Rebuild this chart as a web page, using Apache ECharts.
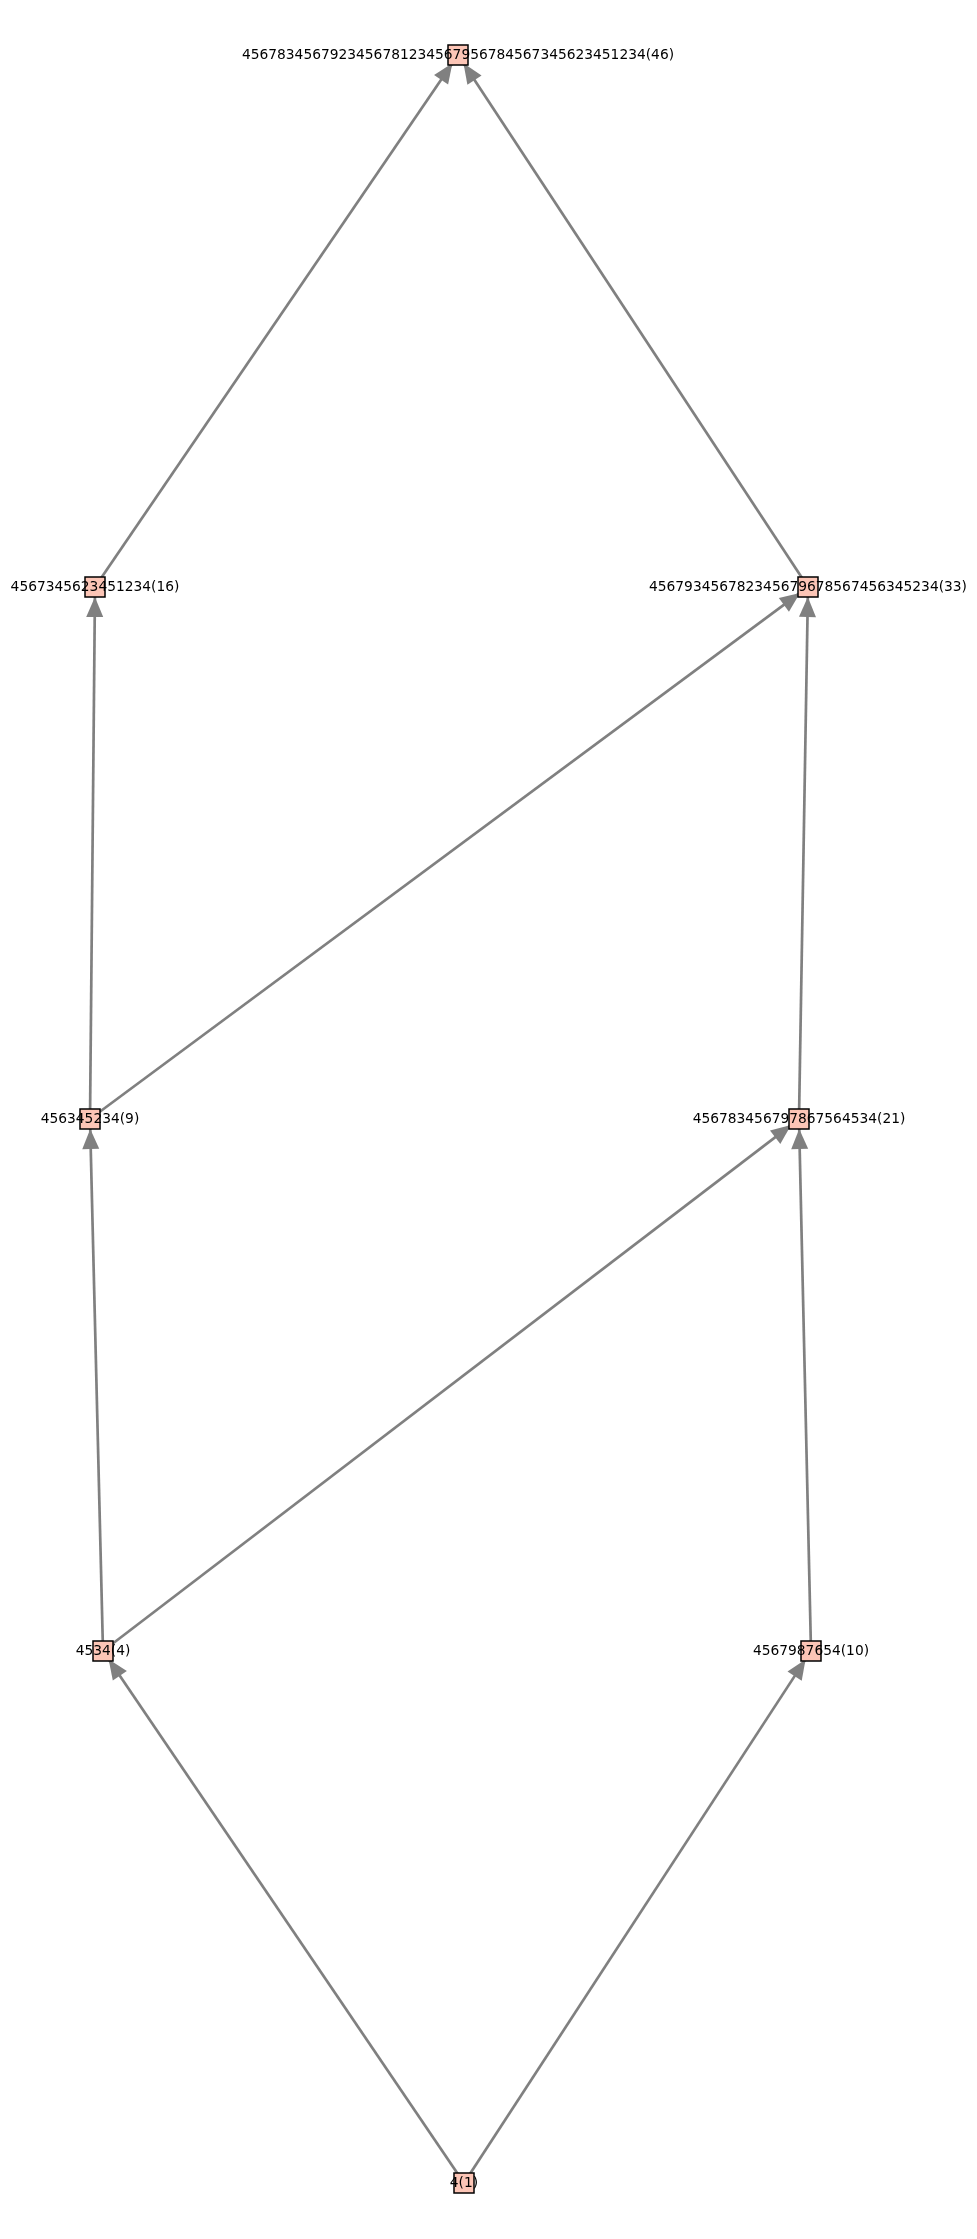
<!DOCTYPE html>
<html>
<head>
<meta charset="utf-8">
<script src="https://cdn.jsdelivr.net/npm/echarts@6/dist/echarts.min.js"></script>
<style>
html,body{margin:0;padding:0;background:#fff;}
#chart{width:977px;height:2239px;}
</style>
</head>
<body>
<div id="chart"></div>
<script>
// nodes of the lattice, placed in pixel-like units of the hidden axes
var nodeNames = [
	'4(1)',
	'4534(4)',
	'4567987654(10)',
	'456345234(9)',
	'456783456797867564534(21)',
	'4567345623451234(16)',
	'456793456782345679678567456345234(33)',
	'4567834567923456781234567956784567345623451234(46)'
];
var nodeX = [464, 103, 811, 90, 799, 95, 808, 458];
var nodeY = [2183, 1651, 1651, 1119, 1119, 587, 587, 55];

// edges (from -> to), index into nodeNames
var edgeSource = [0, 0, 1, 1, 2, 3, 3, 4, 5, 6];
var edgeTarget = [1, 2, 3, 4, 4, 5, 6, 6, 7, 7];

var nodes = [];
for (var i = 0; i < nodeNames.length; i++) {
	nodes.push({ name: nodeNames[i], value: [nodeX[i], nodeY[i]] });
}
var links = [];
for (var j = 0; j < edgeSource.length; j++) {
	links.push({ source: nodeNames[edgeSource[j]], target: nodeNames[edgeTarget[j]] });
}

// arrow head with its tip in the middle of a square box, so the tip sits on the line end
var arrowHead = 'path://M0,-20 M-20,0 M20,0 M0,20 M0,0 L8.5,20 L-8.5,20 Z';

var chart = echarts.init(document.getElementById('chart'), null, { renderer: 'canvas' });
chart.setOption({
	animation: false,
	backgroundColor: '#fff',
	grid: { left: 0, right: 0, top: 0, bottom: 0 },
	xAxis: { type: 'value', min: 0, max: 977, show: false },
	yAxis: { type: 'value', min: 0, max: 2239, inverse: true, show: false },
	series: [{
		type: 'graph',
		coordinateSystem: 'cartesian2d',
		layout: 'none',
		symbol: 'rect',
		symbolSize: 20,
		edgeSymbol: ['none', arrowHead],
		edgeSymbolSize: [0, 40],
		itemStyle: { color: '#fcc5b6', borderColor: '#000', borderWidth: 1.5 },
		lineStyle: { color: '#808080', width: 2.7, opacity: 1 },
		label: {
			show: true,
			position: 'inside',
			color: '#000',
			fontFamily: 'DejaVu Sans',
			fontSize: 13.8
		},
		emphasis: { disabled: true },
		data: nodes,
		links: links
	}]
});
</script>
</body>
</html>
